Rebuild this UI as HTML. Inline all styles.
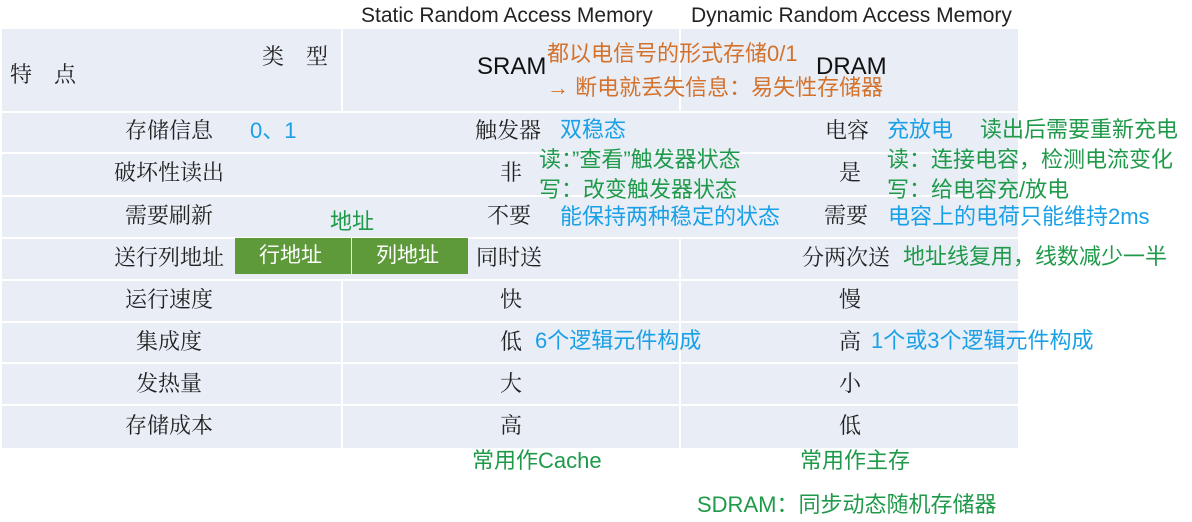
<!DOCTYPE html>
<html><head><meta charset="utf-8"><style>
body{margin:0;width:1192px;height:522px;background:#fff;position:relative;overflow:hidden;font-family:"Liberation Sans","Noto Sans CJK SC",sans-serif;}
.t{position:absolute;white-space:nowrap;line-height:1;}
.k{font-size:22px;color:#222;font-family:"Noto Serif CJK SC","Liberation Serif",serif;}
.g{color:#1f9a4a;font-size:22px;}
.b{color:#1aa0e6;font-size:22px;}
.o{color:#d4712a;font-size:22px;}
.bg{position:absolute;left:2px;top:29px;width:1016px;height:419px;background:#e8edf6;}
.h{position:absolute;left:2px;width:1016px;height:2px;background:#fff;}
.v{position:absolute;width:2px;background:#fff;}
</style></head><body>
<div class="bg"></div>
<div class="h" style="top:111px"></div>
<div class="h" style="top:152px"></div>
<div class="h" style="top:195px"></div>
<div class="h" style="top:237px"></div>
<div class="h" style="top:279px"></div>
<div class="h" style="top:321px"></div>
<div class="h" style="top:362px"></div>
<div class="h" style="top:404px"></div>
<div class="v" style="left:341px;top:29px;height:82px"></div>
<div class="v" style="left:679px;top:29px;height:82px"></div>
<div class="v" style="left:679px;top:237px;height:211px"></div>
<div class="v" style="left:341px;top:279px;height:169px"></div>
<div style="position:absolute;left:235px;top:238px;width:116px;height:36px;background:#5e9a3a;"></div>
<div style="position:absolute;left:352px;top:238px;width:116px;height:36px;background:#5e9a3a;"></div>
<div class="t" style="left:361px;top:5px;font-size:21px;color:#222">Static Random Access Memory</div>
<div class="t" style="left:691px;top:5px;font-size:21px;color:#222">Dynamic Random Access Memory</div>
<div class="t k" style="left:10px;top:63px">特　点</div>
<div class="t k" style="left:262px;top:45px">类　型</div>
<div class="t" style="left:477px;top:55px;font-size:24px;color:#111">SRAM</div>
<div class="t" style="left:816px;top:55px;font-size:24px;color:#111">DRAM</div>
<div class="t o" style="left:547px;top:43px">都以电信号的形式存储0/1</div>
<div class="t o" style="left:547px;top:77px"><b>→</b> 断电就丢失信息：易失性存储器</div>
<div class="t k" style="left:125px;top:119px">存储信息</div>
<div class="t b" style="left:250px;top:120px">0、1</div>
<div class="t k" style="left:475px;top:119px">触发器</div>
<div class="t b" style="left:560px;top:119px">双稳态</div>
<div class="t k" style="left:825px;top:119px">电容</div>
<div class="t b" style="left:887px;top:119px">充放电</div>
<div class="t g" style="left:980px;top:119px">读出后需要重新充电</div>
<div class="t k" style="left:114px;top:161px">破坏性读出</div>
<div class="t k" style="left:500px;top:161px">非</div>
<div class="t g" style="left:539px;top:149px">读：”查看”触发器状态</div>
<div class="t g" style="left:539px;top:179px">写：改变触发器状态</div>
<div class="t k" style="left:839px;top:161px">是</div>
<div class="t g" style="left:887px;top:149px">读：连接电容，检测电流变化</div>
<div class="t g" style="left:887px;top:179px">写：给电容充/放电</div>
<div class="t k" style="left:125px;top:204px">需要刷新</div>
<div class="t g" style="left:330px;top:211px">地址</div>
<div class="t k" style="left:487px;top:204px">不要</div>
<div class="t b" style="left:560px;top:206px">能保持两种稳定的状态</div>
<div class="t k" style="left:824px;top:204px">需要</div>
<div class="t b" style="left:888px;top:206px">电容上的电荷只能维持2ms</div>
<div class="t k" style="left:114px;top:246px">送行列地址</div>
<div class="t" style="left:259px;top:245px;font-size:21px;color:#fff">行地址</div>
<div class="t" style="left:376px;top:245px;font-size:21px;color:#fff">列地址</div>
<div class="t k" style="left:476px;top:246px">同时送</div>
<div class="t k" style="left:802px;top:246px">分两次送</div>
<div class="t g" style="left:903px;top:246px">地址线复用，线数减少一半</div>
<div class="t k" style="left:125px;top:288px">运行速度</div>
<div class="t k" style="left:500px;top:288px">快</div>
<div class="t k" style="left:839px;top:288px">慢</div>
<div class="t k" style="left:136px;top:330px">集成度</div>
<div class="t k" style="left:500px;top:330px">低</div>
<div class="t b" style="left:535px;top:330px">6个逻辑元件构成</div>
<div class="t k" style="left:839px;top:330px">高</div>
<div class="t b" style="left:871px;top:330px">1个或3个逻辑元件构成</div>
<div class="t k" style="left:136px;top:372px">发热量</div>
<div class="t k" style="left:500px;top:372px">大</div>
<div class="t k" style="left:839px;top:372px">小</div>
<div class="t k" style="left:125px;top:414px">存储成本</div>
<div class="t k" style="left:500px;top:414px">高</div>
<div class="t k" style="left:839px;top:414px">低</div>
<div class="t g" style="left:472px;top:450px">常用作Cache</div>
<div class="t g" style="left:800px;top:450px">常用作主存</div>
<div class="t g" style="left:697px;top:494px">SDRAM：同步动态随机存储器</div>
</body></html>
